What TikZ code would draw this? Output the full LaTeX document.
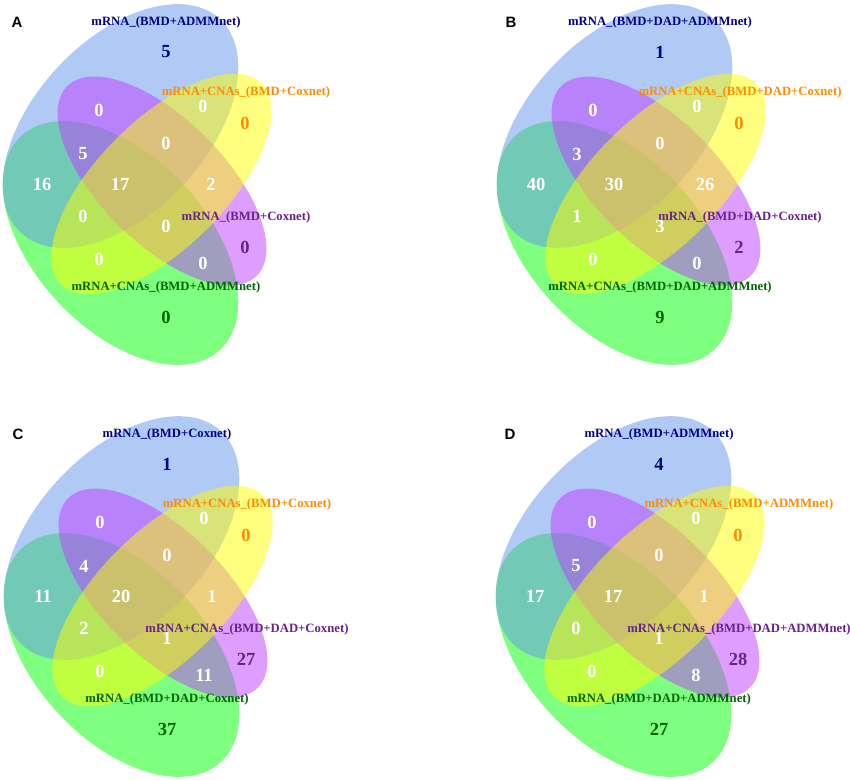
\documentclass[tikz,border=0pt]{standalone}
\usepackage{fontspec}
\setmainfont{Liberation Serif}
\newfontfamily\panelfont{Liberation Sans}
\definecolor{vblue}{RGB}{100,149,237}
\definecolor{vgreen}{RGB}{0,255,0}
\definecolor{vpurple}{RGB}{191,62,255}
\definecolor{vyellow}{RGB}{255,255,0}
\definecolor{tblue}{RGB}{0,0,139}
\definecolor{torange}{RGB}{255,140,0}
\definecolor{tpurple}{RGB}{104,34,139}
\definecolor{tgreen}{RGB}{0,100,0}
\tikzset{
  vset/.style={fill opacity=0.5, draw=none},
  lab/.style={font=\fontsize{12.7}{14}\selectfont\bfseries, inner sep=0pt},
  num/.style={font=\fontsize{18.5}{20}\selectfont\bfseries, inner sep=0pt, text=white},
  num1/.style={text=tblue},
  num4/.style={text=torange},
  num12/.style={text=tpurple},
  num15/.style={text=tgreen},
  panel/.style={font=\panelfont\fontsize{15}{17}\selectfont\bfseries, inner sep=0pt}
}
% #1 prefix, #2 shift, #3 letter, #4-#7 labels, #8 numbers
\newcommand\vennpanel[8]{%
\begin{scope}[shift={(#2)}, name prefix=#1-]
  \fill[vset, vgreen, rotate around={-47:(120.5,243)}] (120.5,243) ellipse [x radius=146, y radius=86];
  \fill[vset, vblue, rotate around={47:(120.5,126)}] (120.5,126) ellipse [x radius=146, y radius=86];
  \fill[vset, vpurple, rotate around={-45:(162,181)}] (162,181) ellipse [x radius=134, y radius=62];
  \fill[vset, vyellow, rotate around={45:(161.5,184)}] (161.5,184) ellipse [x radius=142, y radius=64];
  \node[panel] (letter) at (17,22.5) {#3};
  \node[lab, text=tblue] (l1) at (166,22) {#4};
  \node[lab, text=torange] (l2) at (246,92) {#5};
  \node[lab, text=tpurple] (l3) at (246,217) {#6};
  \node[lab, text=tgreen] (l4) at (166,287) {#7};
  \coordinate (p1) at (166,52);
  \coordinate (p2) at (99,110);
  \coordinate (p3) at (203,106);
  \coordinate (p4) at (245,123);
  \coordinate (p5) at (83,154);
  \coordinate (p6) at (166,143);
  \coordinate (p7) at (42,184);
  \coordinate (p8) at (120,184);
  \coordinate (p9) at (211,184);
  \coordinate (p10) at (83,216);
  \coordinate (p11) at (166,226);
  \coordinate (p12) at (245,247);
  \coordinate (p13) at (99,259);
  \coordinate (p14) at (203,263);
  \coordinate (p15) at (166,317);
  \foreach \v [count=\i] in {#8} {\node[num, num\i/.try] (n\i) at (p\i) {\v};}
\end{scope}}
\begin{document}
\begin{tikzpicture}[x=1pt, y=-1pt]
\fill[white] (0,0) rectangle (850,779);
\useasboundingbox (0,0) rectangle (850,779);
\vennpanel{A}{0,0}{A}{mRNA\_(BMD+ADMMnet)}{mRNA+CNAs\_(BMD+Coxnet)}{mRNA\_(BMD+Coxnet)}{mRNA+CNAs\_(BMD+ADMMnet)}{5,0,0,0,5,0,16,17,2,0,0,0,0,0,0}
\vennpanel{B}{494,0}{B}{mRNA\_(BMD+DAD+ADMMnet)}{mRNA+CNAs\_(BMD+DAD+Coxnet)}{mRNA\_(BMD+DAD+Coxnet)}{mRNA+CNAs\_(BMD+DAD+ADMMnet)}{1,0,0,0,3,0,40,30,26,1,3,2,0,0,9}
\vennpanel{C}{1,412}{C}{mRNA\_(BMD+Coxnet)}{mRNA+CNAs\_(BMD+Coxnet)}{mRNA+CNAs\_(BMD+DAD+Coxnet)}{mRNA\_(BMD+DAD+Coxnet)}{1,0,0,0,4,0,11,20,1,2,1,27,0,11,37}
\vennpanel{D}{493,412}{D}{mRNA\_(BMD+ADMMnet)}{mRNA+CNAs\_(BMD+ADMMnet)}{mRNA+CNAs\_(BMD+DAD+ADMMnet)}{mRNA\_(BMD+DAD+ADMMnet)}{4,0,0,0,5,0,17,17,1,0,1,28,0,8,27}
\end{tikzpicture}
\end{document}
